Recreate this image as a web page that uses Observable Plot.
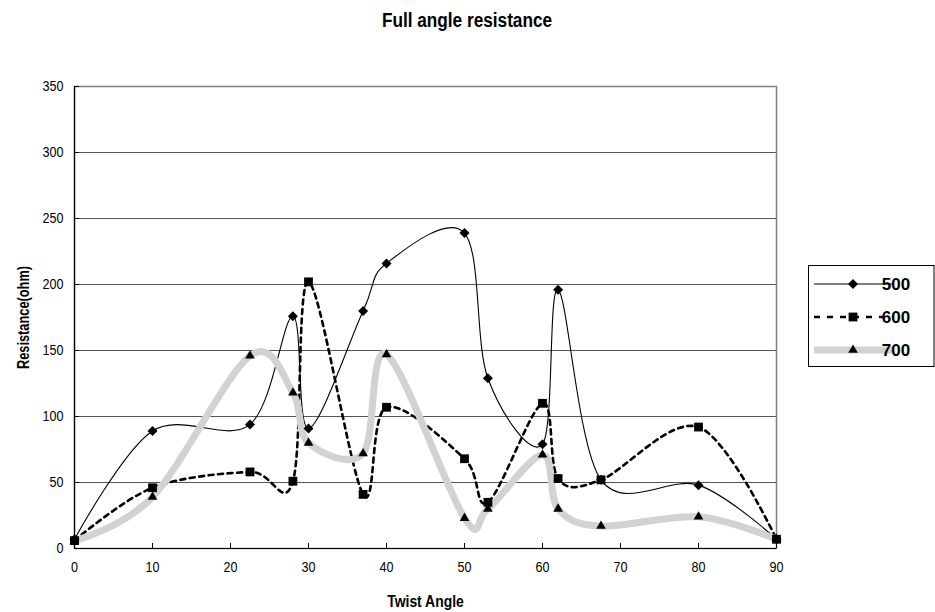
<!DOCTYPE html>
<html>
<head>
<meta charset="utf-8">
<script src="https://cdn.jsdelivr.net/npm/d3@7"></script>
<script src="https://cdn.jsdelivr.net/npm/@observablehq/plot@0.6"></script>
<style>
  body { margin: 0; background: #fff; }
  #chart { position: relative; width: 935px; height: 612px; }
</style>
</head>
<body>
<div id="chart"></div>
<script>
// ---- data ----
const angles = [0, 10, 22.5, 28, 30, 37, 40, 50, 53, 60, 62, 67.5, 80, 90];
const r500 = [7, 89, 94, 176, 91, 180, 216, 239, 129, 79, 196, 52, 48, 7];
const r600 = [6, 46, 58, 51, 202, 41, 107, 68, 35, 110, 53, 52, 92, 7];
const r700 = [6, 39, 146, 118, 80, 72, 147, 23, 30, 71, 30, 17, 24, 7];
const seriesNames = ["500", "600", "700"];
const xTicks = [0, 10, 20, 30, 40, 50, 60, 70, 80, 90];
const yTicks = [0, 50, 100, 150, 200, 250, 300, 350];
const titleText = "Full angle resistance";
const xLabel = "Twist Angle";
const yLabel = "Resistance(ohm)";

const toRows = (vals, s) => angles.map((a, i) => ({angle: a, r: vals[i], s}));
const d500 = toRows(r500, seriesNames[0]);
const d600 = toRows(r600, seriesNames[1]);
const d700 = toRows(r700, seriesNames[2]);

const font = "'Liberation Sans',Arial,sans-serif";
const gray = "#d2d2d2";

const plot = Plot.plot({
  width: 935,
  height: 612,
  marginLeft: 74,
  marginRight: 159,
  marginTop: 86,
  marginBottom: 64,
  style: {fontFamily: font, fontSize: "14px", background: "white", color: "black"},
  x: {domain: [0, 90], label: null},
  y: {domain: [0, 350], label: null},
  marks: [
    Plot.ruleY(yTicks.slice(1), {stroke: "#555", strokeWidth: 1}),
    Plot.frame({stroke: "#808080", strokeWidth: 1.5}),
    Plot.ruleX([0], {stroke: "#000", strokeWidth: 1.2}),
    Plot.ruleY([0], {stroke: "#000", strokeWidth: 1.2}),
    Plot.axisX(xTicks, {tickSize: 0, tickPadding: 14, fontSize: 14, label: null, className: "narrow"}),
    Plot.axisX(xTicks, {tickSize: 5, dy: -5, tickFormat: () => "", label: null, stroke: "#000"}),
    Plot.axisY(yTicks, {tickSize: 0, tickPadding: 11, fontSize: 14, label: null, className: "narrow"}),
    Plot.axisY(yTicks, {tickSize: 5, dx: 5, tickFormat: () => "", label: null, stroke: "#000"}),
    // lines
    Plot.line(d500, {x: "angle", y: "r", curve: "cardinal", stroke: "#000", strokeWidth: 1.1}),
    Plot.line(d600, {x: "angle", y: "r", curve: "cardinal", stroke: "#000", strokeWidth: 2.6, strokeDasharray: "5,4.5"}),
    Plot.line(d700, {x: "angle", y: "r", curve: "cardinal", stroke: gray, strokeWidth: 7, strokeLinecap: "round", strokeLinejoin: "round"}),
    // markers
    Plot.dot(d700, {x: "angle", y: "r", symbol: "triangle2", r: 4.6, fill: "#000", stroke: "none"}),
    Plot.dot(d500, {x: "angle", y: "r", symbol: "diamond2", r: 4.5, fill: "#000", stroke: "none"}),
    Plot.dot(d600, {x: "angle", y: "r", symbol: "square2", r: 5.6, fill: "#000", stroke: "none"}),
    // axis titles
    Plot.text([xLabel], {frameAnchor: "bottom", dy: 53, lineAnchor: "middle", fontWeight: "bold", fontSize: 16, className: "xlab"}),
    Plot.text([yLabel], {frameAnchor: "left", dx: -51, rotate: -90, textAnchor: "middle", lineAnchor: "middle", fontWeight: "bold", fontSize: 16, className: "ylab"})
  ]
});

document.getElementById("chart").appendChild(plot);

const svg = d3.select(plot);

// title
svg.append("text")
  .attr("class", "ttl")
  .attr("x", 467).attr("y", 27)
  .attr("text-anchor", "middle")
  .style("font-family", font)
  .style("font-weight", "bold")
  .style("font-size", "20px")
  .text(titleText);

// condensed look of the reference lettering
function squeeze(sel, factor) {
  sel.each(function () {
    const w = this.getComputedTextLength();
    if (w > 0) {
      this.setAttribute("textLength", (w * factor).toFixed(1));
      this.setAttribute("lengthAdjust", "spacingAndGlyphs");
    }
  });
}
squeeze(svg.selectAll(".narrow text"), 0.9);
squeeze(svg.selectAll(".xlab text"), 0.87);
squeeze(svg.selectAll(".ylab text"), 0.8);
squeeze(svg.selectAll("text.ttl"), 0.86);

// legend
const lg = svg.append("g");
lg.append("rect")
  .attr("x", 808.5).attr("y", 265.5).attr("width", 125.5).attr("height", 101)
  .attr("fill", "white").attr("stroke", "#000").attr("stroke-width", 1);

const legendRows = [
  {name: seriesNames[0], y: 284, stroke: "#000", width: 1.1, dash: null, sym: d3.symbolDiamond2, r: 4.5},
  {name: seriesNames[1], y: 317, stroke: "#000", width: 2.6, dash: "6,7", sym: d3.symbolSquare2, r: 5.6},
  {name: seriesNames[2], y: 350, stroke: gray, width: 7, dash: null, sym: d3.symbolTriangle2, r: 4.6}
];
legendRows.forEach(row => {
  const ln = lg.append("line")
    .attr("x1", 814).attr("x2", 893).attr("y1", row.y).attr("y2", row.y)
    .attr("stroke", row.stroke).attr("stroke-width", row.width);
  if (row.dash) ln.attr("stroke-dasharray", row.dash);
  lg.append("path")
    .attr("transform", `translate(853,${row.y})`)
    .attr("d", d3.symbol(row.sym, row.r * row.r * Math.PI)())
    .attr("fill", "#000");
  lg.append("text")
    .attr("x", 896).attr("y", row.y)
    .attr("dominant-baseline", "central")
    .style("font-family", font)
    .style("font-weight", "bold")
    .style("font-size", "17px")
    .text(row.name);
});
</script>
</body>
</html>
